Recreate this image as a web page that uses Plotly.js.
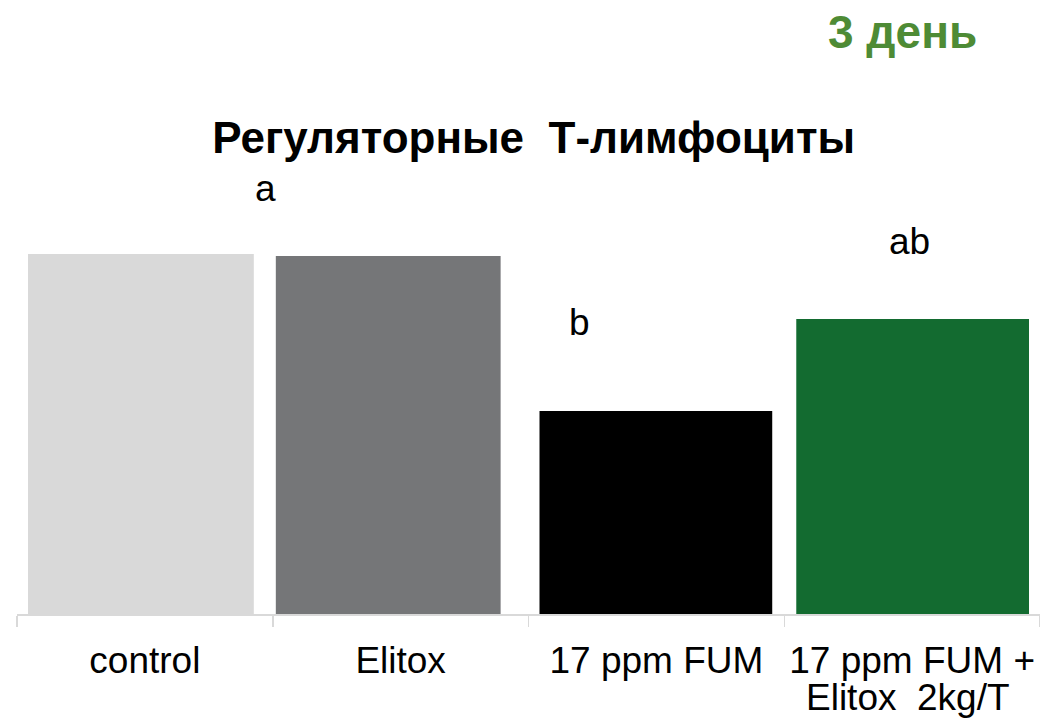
<!DOCTYPE html>
<html>
<head>
<meta charset="utf-8">
<script src="https://cdn.plot.ly/plotly-3.0.1.min.js"></script>
<style>html,body{margin:0;padding:0;background:#fff;}#chart{width:1040px;height:718px;}</style>
</head>
<body>
<div id="chart"></div>
<script>
// Data
const categories = ['control', 'Elitox', '17 ppm FUM', '17 ppm FUM + Elitox 2kg/T'];
const tickLabels = ['control', 'Elitox', '17 ppm FUM', '17 ppm FUM +'];
const secondLineLabel = 'Elitox\u00A0 2kg/T';
const values = [3.60, 3.58, 2.03, 2.95];
const barColors = ['#D9D9D9', '#757678', '#000000', '#136B30'];
const groupLetters = ['a', 'b', 'ab'];
const titleText = 'Регуляторные\u00A0 Т-лимфоциты';
const dayText = '3 день';

const FONT = 'Arial, "Liberation Sans", sans-serif';

const trace = {
  type: 'bar',
  x: categories,
  y: values,
  marker: {color: barColors, line: {width: 0}},
  width: [0.883, 0.879, 0.91, 0.91],
  offset: [-0.457, -0.488, -0.457, -0.453],
  hoverinfo: 'skip'
};

const layout = {
  width: 1040,
  height: 718,
  margin: {l: 17, r: 0, t: 114, b: 104},
  paper_bgcolor: '#ffffff',
  plot_bgcolor: '#ffffff',
  showlegend: false,
  title: {
    text: '<b>' + titleText + '</b>',
    font: {family: FONT, size: 44, color: '#000000'},
    x: 0.505, xref: 'paper', xanchor: 'center',
    y: 1 - 138 / 718, yref: 'container', yanchor: 'middle'
  },
  xaxis: {
    type: 'category',
    tickvals: categories,
    ticktext: tickLabels,
    tickson: 'boundaries',
    ticks: 'outside',
    ticklen: 11,
    tickwidth: 1.5,
    tickcolor: '#D9D9D9',
    showline: true,
    linecolor: '#D9D9D9',
    linewidth: 1.5,
    showgrid: false,
    zeroline: false,
    ticklabelstandoff: 13,
    tickfont: {family: FONT, size: 37, color: '#000000'},
    range: [-0.5, 3.5],
    fixedrange: true
  },
  yaxis: {
    visible: false,
    range: [0, 5],
    showgrid: false,
    zeroline: false,
    fixedrange: true
  },
  annotations: [
    {text: groupLetters[0], x: 0.47, y: 4.26, xref: 'x', yref: 'y', showarrow: false,
     font: {family: FONT, size: 37, color: '#000000'}, xanchor: 'center', yanchor: 'middle'},
    {text: groupLetters[1], x: 1.70, y: 2.92, xref: 'x', yref: 'y', showarrow: false,
     font: {family: FONT, size: 37, color: '#000000'}, xanchor: 'center', yanchor: 'middle'},
    {text: groupLetters[2], x: 2.99, y: 3.73, xref: 'x', yref: 'y', showarrow: false,
     font: {family: FONT, size: 37, color: '#000000'}, xanchor: 'center', yanchor: 'middle'},
    {text: secondLineLabel, x: categories[3], xref: 'x', y: (614 - 697) / 500, yref: 'paper',
     showarrow: false, font: {family: FONT, size: 37, color: '#000000'},
     xanchor: 'center', yanchor: 'middle', xshift: -4},
    {text: '<b>' + dayText + '</b>', x: (902 - 17) / 1023, xref: 'paper', y: (614 - 32) / 500, yref: 'paper',
     showarrow: false, font: {family: FONT, size: 46, color: '#4E8B35'},
     xanchor: 'center', yanchor: 'middle'}
  ]
};

Plotly.newPlot('chart', [trace], layout, {displayModeBar: false, staticPlot: true});
</script>
</body>
</html>
